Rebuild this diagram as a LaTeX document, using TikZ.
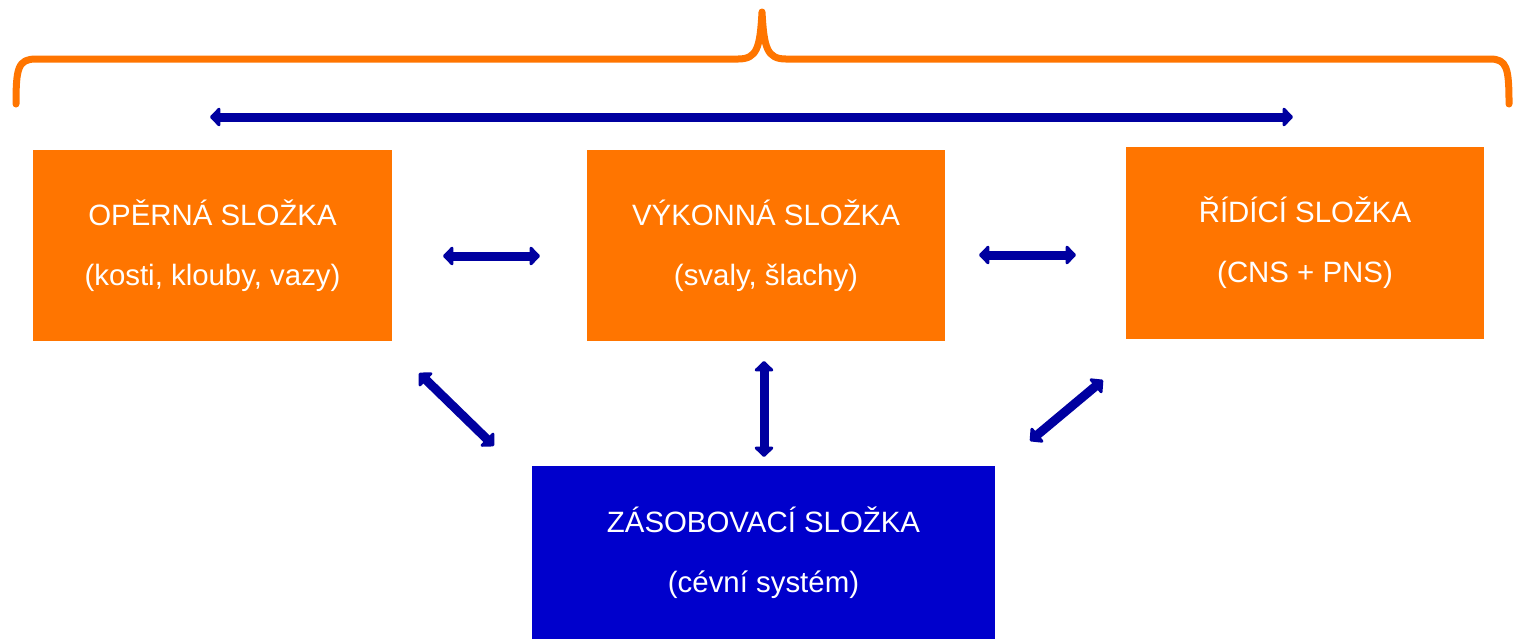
\documentclass[tikz,border=0pt]{standalone}
\usepackage{fontspec}
\setmainfont{Liberation Sans}
\usetikzlibrary{arrows.meta}
\definecolor{boxorange}{HTML}{FF7500}
\definecolor{boxblue}{HTML}{0000CC}
\definecolor{arrblue}{HTML}{0000A0}
\tikzset{
  orangebox/.style={fill=boxorange, draw=none, text=white, align=center, inner sep=0pt,
    font=\fontsize{14.7}{30}\selectfont},
  bluebox/.style={fill=boxblue, draw=none, text=white, align=center, inner sep=0pt,
    font=\fontsize{14.7}{30}\selectfont},
  dblarrow/.style={draw=arrblue, line width=4.5pt, line join=round,
    {Triangle[width=11pt,length=5.5pt,round]}-{Triangle[width=11pt,length=5.5pt,round]}},
  bracestyle/.style={draw=boxorange, line width=3.5pt, line cap=round, line join=round}
}
\begin{document}
\begin{tikzpicture}[x=0.5pt,y=-0.5pt]
\useasboundingbox (0,0) rectangle (1513,639);
% boxes
\node[orangebox, minimum width=179.5pt, minimum height=95.5pt] (opr) at (212.5,245.5)
  {OPĚRNÁ SLOŽKA\\(kosti, klouby, vazy)};
\node[orangebox, minimum width=179pt, minimum height=95.5pt] (vyk) at (766,245.5)
  {VÝKONNÁ SLOŽKA\\(svaly, šlachy)};
\node[orangebox, minimum width=179pt, minimum height=96pt] (rid) at (1305,243)
  {ŘÍDÍCÍ SLOŽKA\\(CNS + PNS)};
\node[bluebox, minimum width=231.5pt, minimum height=86.5pt, anchor=north] (zas) at (763.5,466)
  {ZÁSOBOVACÍ SLOŽKA\\(cévní systém)};
% brace
\draw[bracestyle] (16,104) .. controls (16,68) and (18,59) .. (36,59) -- (738,59)
  .. controls (757,59) and (760,48) .. (762,12)
  .. controls (764,48) and (767,59) .. (786,59) -- (1490,59)
  .. controls (1507,59) and (1509,68) .. (1509,104);
% arrow end points
\coordinate (topL) at (210,117);
\coordinate (topR) at (1293,117);
\coordinate (abL) at (443,256);
\coordinate (abR) at (540,256);
\coordinate (bcL) at (979,255);
\coordinate (bcR) at (1076,255);
\coordinate (vT) at (764,361);
\coordinate (vB) at (764,457);
\coordinate (ldT) at (419,373);
\coordinate (ldB) at (494,446);
\coordinate (rdT) at (1103,380);
\coordinate (rdB) at (1030,441);
% arrows
\draw[dblarrow] (topL) -- (topR);
\draw[dblarrow] (abL) -- (abR);
\draw[dblarrow] (bcL) -- (bcR);
\draw[dblarrow] (vT) -- (vB);
\draw[dblarrow] (ldT) -- (ldB);
\draw[dblarrow] (rdT) -- (rdB);
\end{tikzpicture}
\end{document}
